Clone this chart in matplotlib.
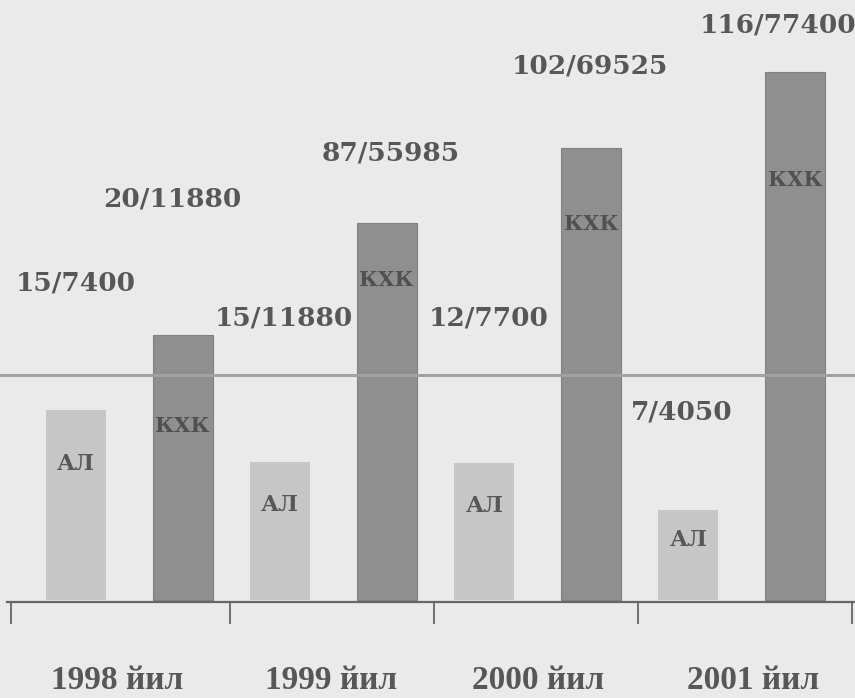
import matplotlib.pyplot as plt

# Йиллар ва устун қийматлари (расмдан ўқилган баландликлар)
years = ["1998 йил", "1999 йил", "2000 йил", "2001 йил"]
al_height = [190, 138, 137, 90]
kxk_height = [265, 377, 452, 528]
al_labels = ["15/7400", "15/11880", "12/7700", "7/4050"]
kxk_labels = ["20/11880", "87/55985", "102/69525", "116/77400"]
al_name = "АЛ"
kxk_name = "КХК"

# Жойлашув (layout)
bar_w = 0.294
shift = 0.261
al_lab_y = [317, 282, 282, 188]
kxk_lab_y = [401, 447, 534, 575]
al_lab_dx = [0.0, 0.02, 0.02, -0.035]
kxk_lab_dx = [-0.05, 0.02, -0.005, -0.085]
al_in_y = [136, 95, 94, 60]
kxk_in_y = [174, 320, 376, 420]
year_x = [-0.06, 0.99, 2.0, 3.055]
tick_x = [-0.58, 0.493, 1.493, 2.492, 3.54]

bg = "#eaeaea"
light = "#c6c6c6"
dark = "#8f8f8f"
txt = "#575757"

fig = plt.figure(figsize=(8.55, 6.98), dpi=100, facecolor=bg)
ax = fig.add_axes([0, 0, 1, 1])
ax.set_facecolor(bg)
ax.set_xlim(-0.634, 3.555)
ax.set_ylim(-98, 600)

x = list(range(len(years)))
al_x = [i - shift for i in x]
kxk_x = [i + shift for i in x]

ax.bar(al_x, al_height, width=bar_w, color=light, zorder=2)
ax.bar(kxk_x, kxk_height, width=bar_w, color=dark, edgecolor="#808080", lw=0.8, zorder=2)

# горизонтал чизиқ
ax.axhline(225, color="#a2a2a2", lw=2.2, zorder=3)

vfont = dict(family="DejaVu Serif", weight="bold", color=txt, ha="center", va="center")
for i in x:
    ax.text(al_x[i] + al_lab_dx[i], al_lab_y[i], al_labels[i], fontsize=19, **vfont)
    ax.text(kxk_x[i] + kxk_lab_dx[i], kxk_lab_y[i], kxk_labels[i], fontsize=19, **vfont)
    ax.text(al_x[i], al_in_y[i], al_name, fontsize=16, zorder=4, **vfont)
    ax.text(kxk_x[i], kxk_in_y[i], kxk_name, fontsize=15, zorder=4,
            family="DejaVu Serif", weight="bold", color="#505050", ha="center", va="center")
    ax.text(year_x[i], -89, years[i], fontsize=24, family="Liberation Serif",
            weight="bold", color=txt, ha="center", va="baseline")

# пастки ўқ
for s in ["top", "right", "left"]:
    ax.spines[s].set_visible(False)
ax.spines["bottom"].set_position(("data", -2))
ax.spines["bottom"].set_bounds(-0.6, 3.555)
ax.spines["bottom"].set_color("#666666")
ax.spines["bottom"].set_linewidth(1.6)
ax.set_xticks(tick_x)
ax.set_xticklabels([])
ax.tick_params(axis="x", direction="out", length=16, width=1.3, color="#666666")
ax.set_yticks([])

fig.savefig("out.png", dpi=100, facecolor=bg)
